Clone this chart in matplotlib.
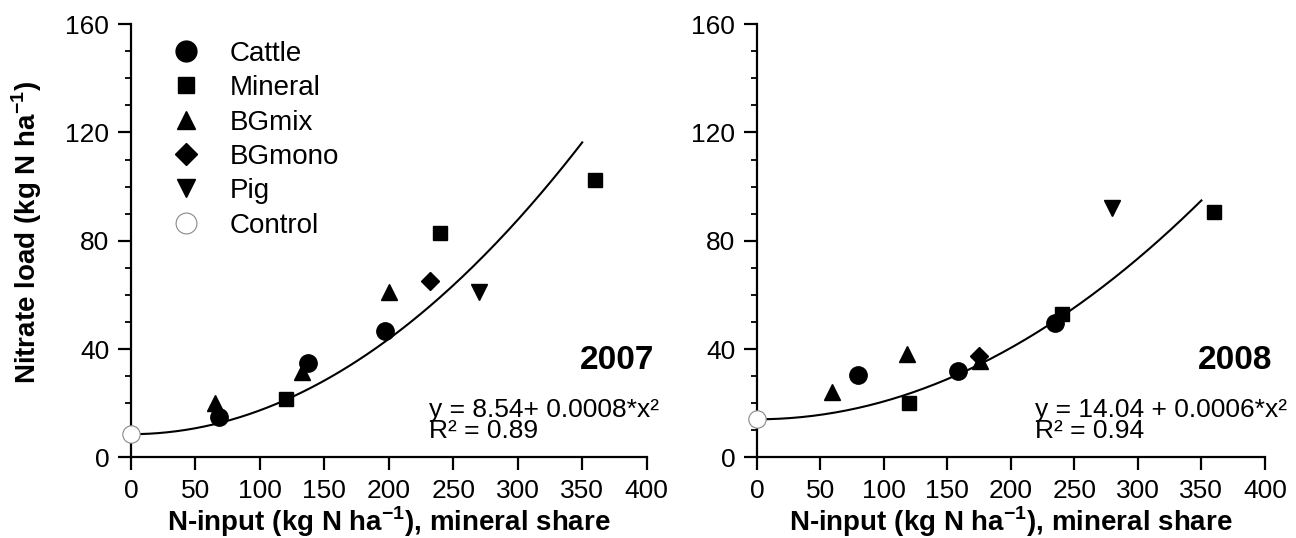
import numpy as np
import matplotlib
matplotlib.use('Agg')
from matplotlib import pyplot as plt
from matplotlib.ticker import MultipleLocator
from matplotlib.lines import Line2D

plt.rcParams['font.family'] = ['Liberation Sans', 'DejaVu Sans']
plt.rcParams['mathtext.fontset'] = 'custom'
plt.rcParams['mathtext.bf'] = 'Liberation Sans:bold'
plt.rcParams['mathtext.rm'] = 'Liberation Sans'

groups = ['Cattle', 'Mineral', 'BGmix', 'BGmono', 'Pig', 'Control']
markers = {'Cattle': 'o', 'Mineral': 's', 'BGmix': '^', 'BGmono': 'D', 'Pig': 'v', 'Control': 'o'}
sizes = {'Cattle': 12.5, 'Mineral': 10, 'BGmix': 11, 'BGmono': 9.5, 'Pig': 11, 'Control': 12.5}

# 2007 measurements (N input, nitrate load)
x2007 = {'Cattle': [68, 137, 197], 'Mineral': [120, 240, 360], 'BGmix': [65, 133, 200],
         'BGmono': [232], 'Pig': [270], 'Control': [0]}
y2007 = {'Cattle': [15, 35, 46.5], 'Mineral': [21.5, 83, 102.5], 'BGmix': [20, 31.5, 61],
         'BGmono': [65], 'Pig': [61], 'Control': [8.5]}

# 2008 measurements
x2008 = {'Cattle': [80, 158, 235], 'Mineral': [120, 240, 360], 'BGmix': [59, 118, 176],
         'BGmono': [175], 'Pig': [280], 'Control': [0]}
y2008 = {'Cattle': [30.5, 32, 49.5], 'Mineral': [20, 53, 90.5], 'BGmix': [24, 38, 35.5],
         'BGmono': [37.5], 'Pig': [92], 'Control': [14]}

# quadratic fits as drawn (intercept, coefficient)
fit2007 = (8.54, 0.00088)
fit2008 = (14.04, 0.00066)
eq_text = {'2007': 'y = 8.54+ 0.0008*x²\nR² = 0.89',
           '2008': 'y = 14.04 + 0.0006*x²\nR² = 0.94'}
eq_pos = {'2007': 0.578, '2008': 0.547}


def draw_year(ax, xs, ys, fit, year):
    for g in groups:
        if g == 'Control':
            ax.plot(xs[g], ys[g], marker='o', ls='none', ms=sizes[g], mfc='white',
                    mec='#888888', mew=0.8, zorder=3, clip_on=False)
        else:
            ax.plot(xs[g], ys[g], marker=markers[g], ls='none', ms=sizes[g],
                    color='black', zorder=3)
    xf = np.linspace(0, 350, 200)
    ax.plot(xf, fit[0] + fit[1] * xf ** 2, color='black', lw=1.5, zorder=2)

    ax.set_xlim(0, 400)
    ax.set_ylim(0, 160)
    ax.xaxis.set_major_locator(MultipleLocator(50))
    ax.yaxis.set_major_locator(MultipleLocator(40))
    ax.yaxis.set_minor_locator(MultipleLocator(10))
    for s in ['top', 'right']:
        ax.spines[s].set_visible(False)
    for s in ['left', 'bottom']:
        ax.spines[s].set_linewidth(1.6)
    ax.tick_params(which='major', direction='out', length=9.5, width=1.6, labelsize=19, pad=6)
    ax.tick_params(which='minor', direction='out', length=4.5, width=1.3)
    ax.set_xlabel('N-input (kg N ha$^{\\mathbf{-1}}$), mineral share', fontsize=20,
                  fontweight='bold', labelpad=1)
    ax.text(1.015, 0.224, year, transform=ax.transAxes, ha='right', va='center',
            fontsize=24, fontweight='bold')
    ax.text(eq_pos[year], 0.136, eq_text[year], transform=ax.transAxes, ha='left', va='top',
            fontsize=19, linespacing=0.8)


fig = plt.figure(figsize=(12.96, 5.38), dpi=100)
ax1 = fig.add_axes([0.101, 0.150, 0.398, 0.805])
ax2 = fig.add_axes([0.584, 0.150, 0.392, 0.805])

draw_year(ax1, x2007, y2007, fit2007, '2007')
draw_year(ax2, x2008, y2008, fit2008, '2008')

ax1.set_ylabel('Nitrate load (kg N ha$^{\\mathbf{-1}}$)', fontsize=20, fontweight='bold')
ax1.yaxis.set_label_coords(-0.168, 0.52)

handles = []
for g in groups:
    if g == 'Control':
        handles.append(Line2D([], [], marker='o', ls='none', ms=sizes[g], mfc='white',
                              mec='#888888', mew=0.8))
    else:
        handles.append(Line2D([], [], marker=markers[g], ls='none', ms=sizes[g], color='black'))
ax1.legend(handles, groups, loc='upper left', bbox_to_anchor=(0.02, 1.0), frameon=False,
           fontsize=20, markerscale=1.2, labelspacing=0.3, handletextpad=0.6,
           borderaxespad=0.2)

fig.savefig('out.png', dpi=100)
